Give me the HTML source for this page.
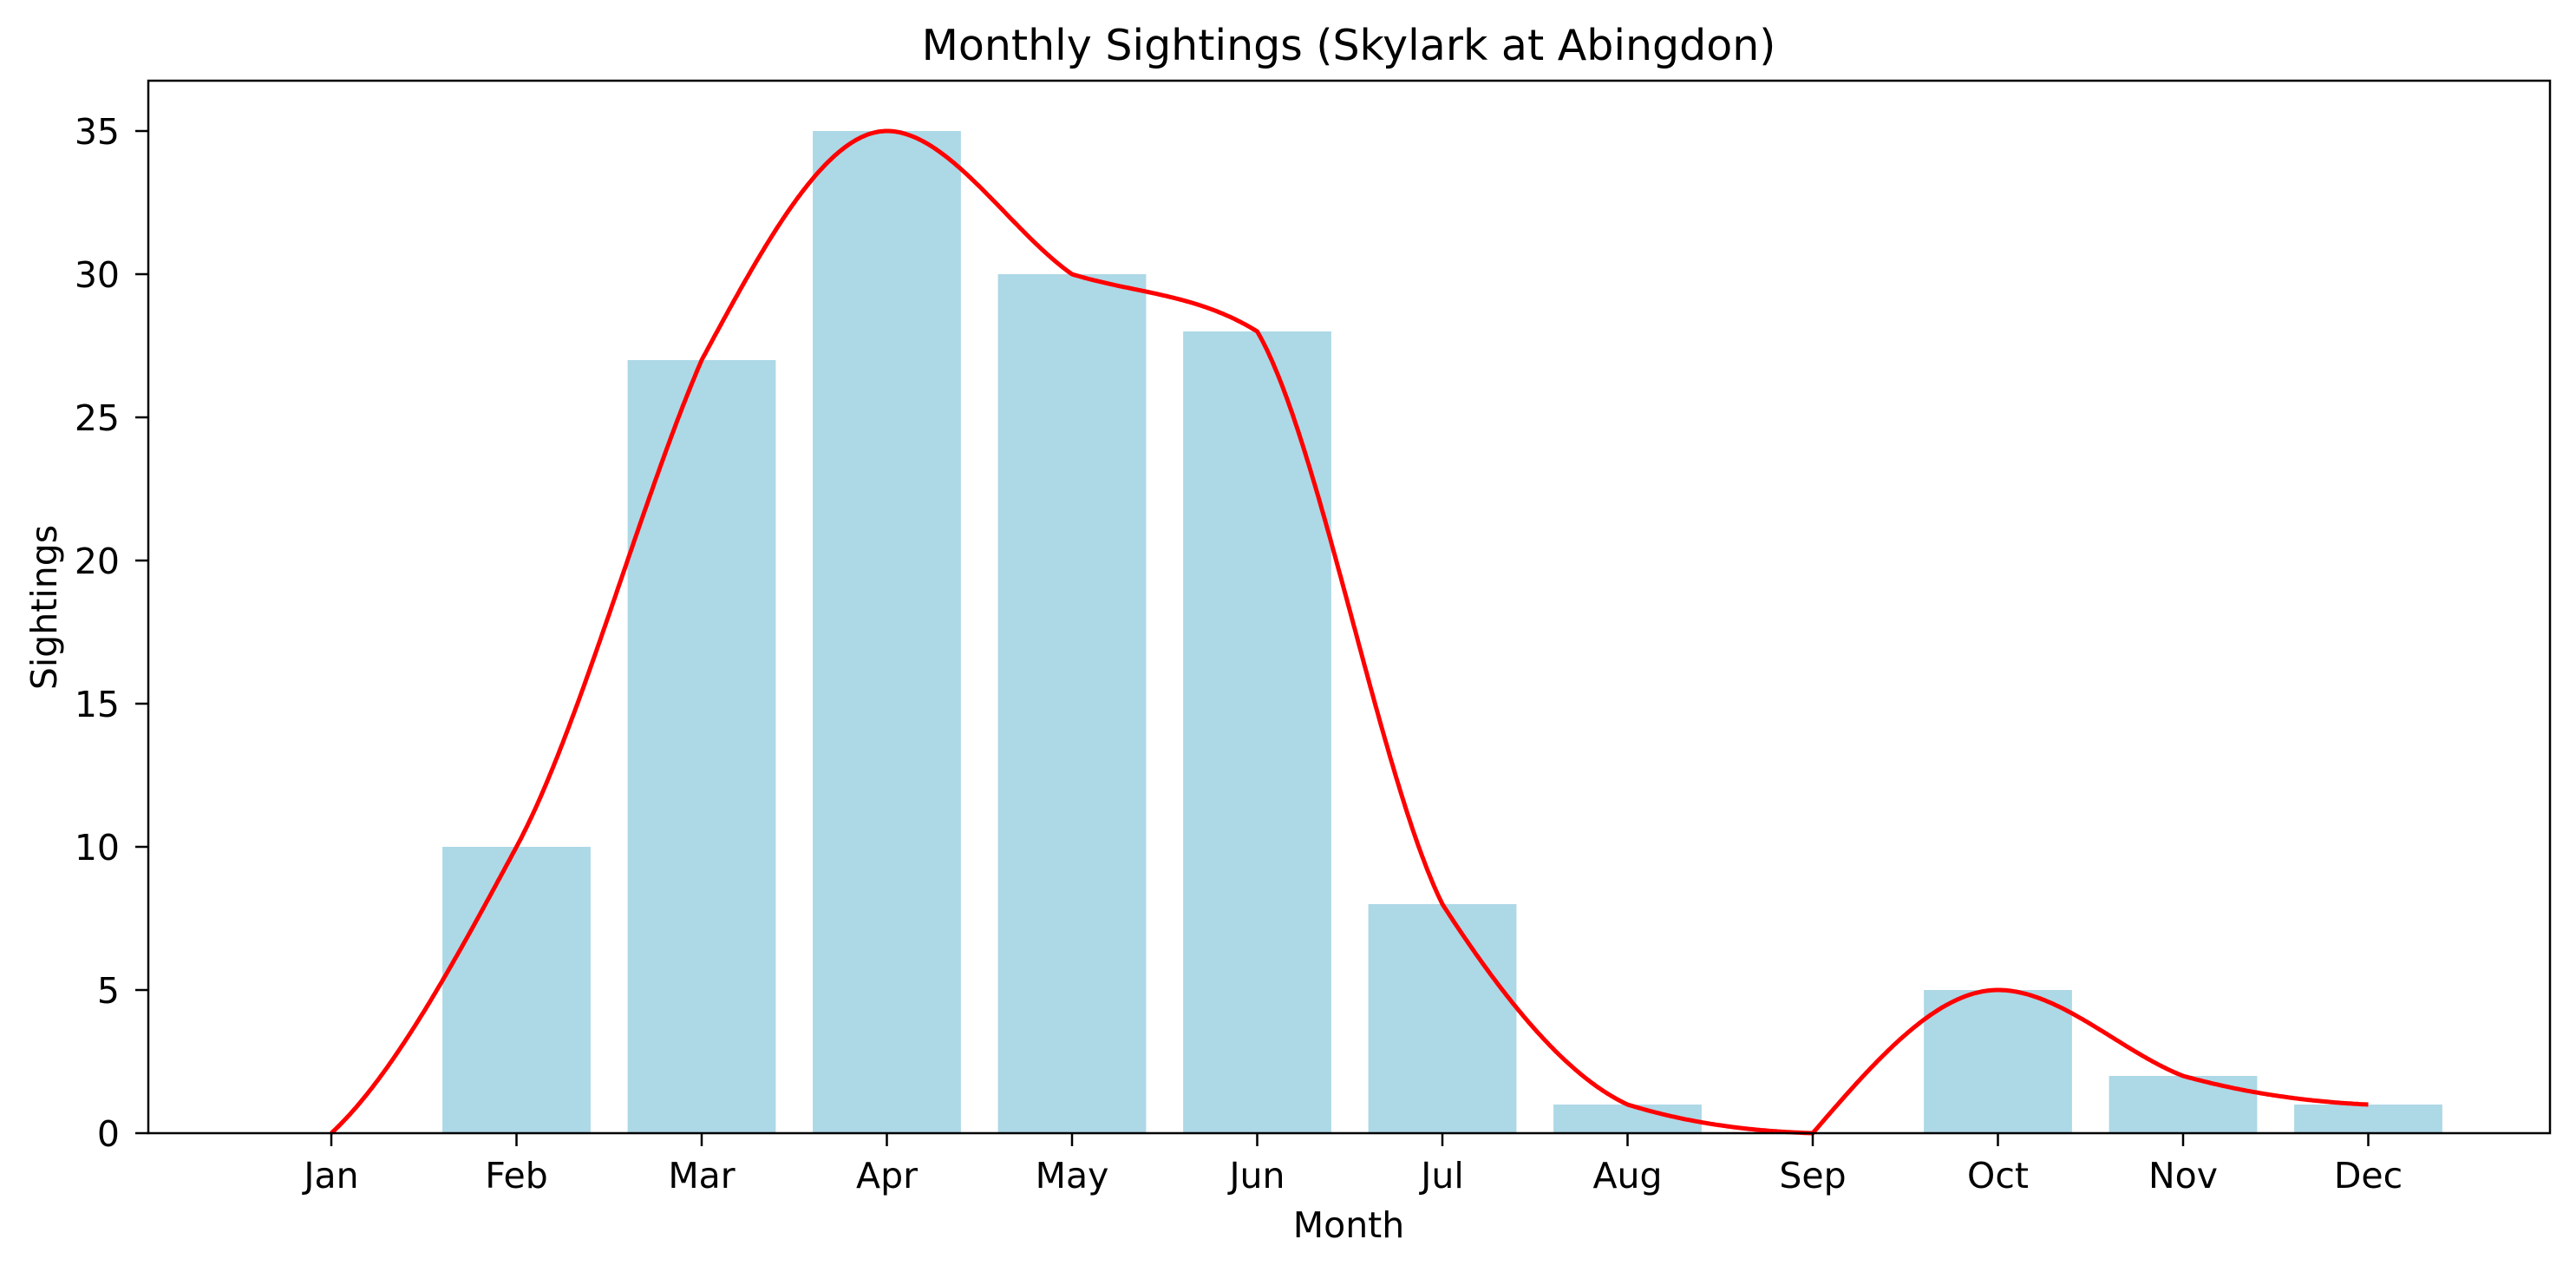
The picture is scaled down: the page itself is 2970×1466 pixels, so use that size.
<!DOCTYPE html>
<html><head><meta charset="utf-8"><style>body{margin:0;background:#fff}svg{display:block}</style></head>
<body>
<svg id="s" width="2970" height="1466" xmlns="http://www.w3.org/2000/svg" font-family="DejaVu Sans, Liberation Sans, sans-serif"></svg>
<script>
const s=document.getElementById('s');
const data=[0,10,27,35,30,28,8,1,0,5,2,1];
const tg=[[0,6],[12,12],[15,12],[0,0],[-4.5,-2],[-4,-11],[-13,-10],[-3,-2],[-0.2,7.5],[0,0],[-2.5,-1.8],[-0.3,0]];
const months=['Jan','Feb','Mar','Apr','May','Jun','Jul','Aug','Sep','Oct','Nov','Dec'];
const X=i=>382+i*213.5, Y=v=>1306-v*33.0;
let h='';
data.forEach((v,i)=>{h+=`<rect x="${X(i)-85.4}" y="${Y(v)}" width="170.8" height="${v*33.0}" fill="#add8e6"/>`;});
const n=data.length;
let pts=[];for(let k=0;k<=1100;k++){let x=k*11/1100;let j=Math.min(Math.floor(x),n-2);let t=x-j;
let t2=t*t,t3=t2*t;
let v=(2*t3-3*t2+1)*data[j]+(t3-2*t2+t)*tg[j][1]+(-2*t3+3*t2)*data[j+1]+(t3-t2)*tg[j+1][0];
if(v<0)v=0;pts.push(X(x).toFixed(1)+','+Y(v).toFixed(1));}
h+=`<polyline points="${pts.join(' ')}" fill="none" stroke="#ff0000" stroke-width="5" stroke-linejoin="round"/>`;
h+=`<rect x="171" y="93" width="2769" height="1213" fill="none" stroke="#000" stroke-width="2.5"/>`;
months.forEach((mm,i)=>{h+=`<line x1="${X(i)}" y1="1306" x2="${X(i)}" y2="1321" stroke="#000" stroke-width="2.5"/><text x="${X(i)}" y="1369" font-size="41" text-anchor="middle">${mm}</text>`;});
for(let v=0;v<=35;v+=5){h+=`<line x1="156" y1="${Y(v)}" x2="171" y2="${Y(v)}" stroke="#000" stroke-width="2.5"/><text x="138" y="${Y(v)+15}" font-size="41" text-anchor="end">${v}</text>`;}
h+=`<text x="1555" y="69" font-size="49" text-anchor="middle">Monthly Sightings (Skylark at Abingdon)</text>`;
h+=`<text x="1555" y="1426" font-size="41" text-anchor="middle">Month</text>`;
h+=`<text transform="translate(65,700) rotate(-90)" font-size="41" text-anchor="middle">Sightings</text>`;
s.innerHTML=h;
</script>
</body></html>
